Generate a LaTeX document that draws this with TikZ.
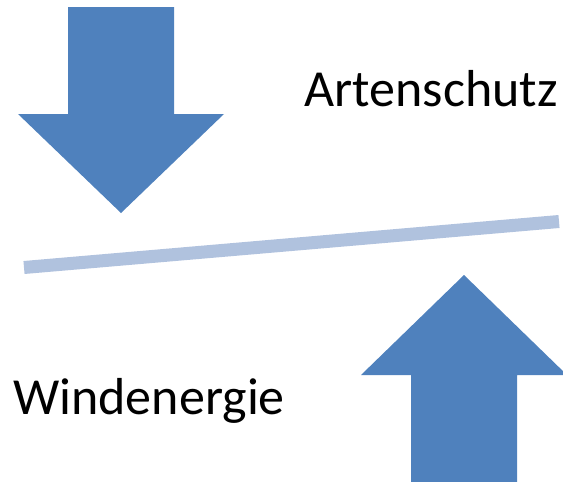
\documentclass[tikz,border=0pt]{standalone}
\usepackage{fontspec}
\setmainfont{Carlito}
\definecolor{arrowblue}{HTML}{4F81BD}
\definecolor{beamblue}{HTML}{B0C2DE}
\begin{document}
\begin{tikzpicture}[x=1pt,y=-1pt,
  bigarrow/.style={fill=arrowblue,draw=none},
  label/.style={inner sep=0pt,font=\fontsize{52}{58}\selectfont,text=black}]
\useasboundingbox (0,0) rectangle (563,482);
\clip (0,0) rectangle (563,482);
% down arrow
\fill[bigarrow] (68,7) -- (174,7) -- (174,114) -- (224,114) -- (121,213) -- (18,114) -- (68,114) -- cycle;
% up arrow
\fill[bigarrow] (411,482) -- (517,482) -- (517,375) -- (567,375) -- (464,275) -- (361,375) -- (411,375) -- cycle;
% beam
\coordinate (bl) at (24,267.5);
\coordinate (br) at (559,221.5);
\draw[beamblue,line width=13pt] (bl) -- (br);
% labels
\node[label,anchor=base east] (arten) at (558,106) {Artenschutz};
\node[label,anchor=base west] (wind) at (13,414) {Windenergie};
\end{tikzpicture}
\end{document}
